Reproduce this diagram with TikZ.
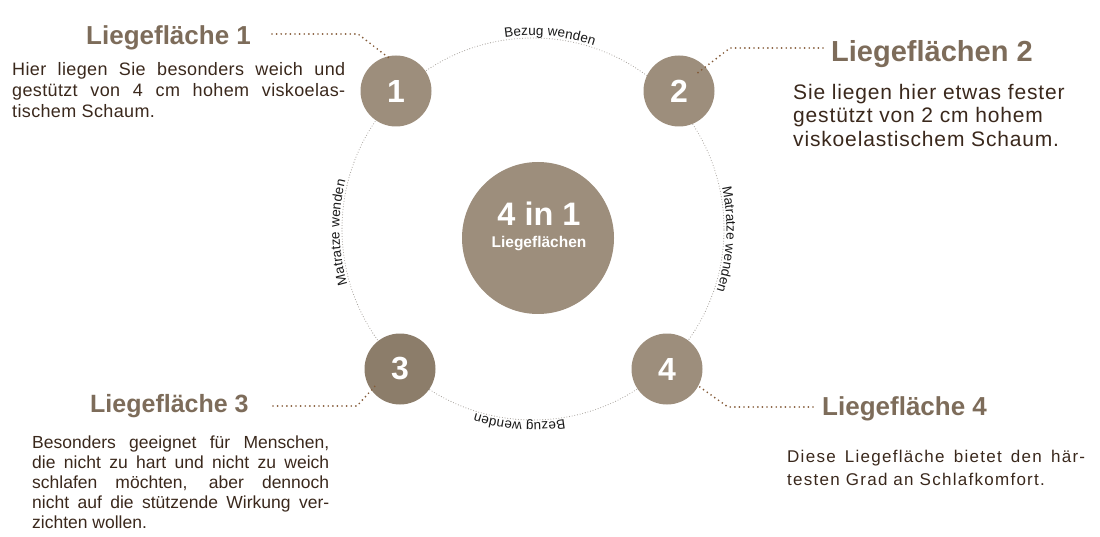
\documentclass[tikz,border=0pt]{standalone}
\usepackage{fontspec}
\setmainfont{Liberation Sans}
\newfontfamily\bodyA[LetterSpace=2]{Liberation Sans}
\newfontfamily\bodyB[LetterSpace=4]{Liberation Sans}
\newfontfamily\bodyC{Liberation Sans}
\newfontfamily\bodyD[LetterSpace=7.5]{Liberation Sans}
\usetikzlibrary{decorations.text,calc}
\definecolor{disc}{HTML}{9D8E7C}
\definecolor{discdark}{HTML}{8C7D6A}
\definecolor{titlecol}{HTML}{7D6C5A}
\definecolor{bodycol}{HTML}{3A281C}
\definecolor{leadcol}{HTML}{845B38}
\definecolor{ringcol}{HTML}{A8A39E}
\newcommand{\ringlabelfont}{\fontsize{13.5}{15}\selectfont}
\tikzset{
  ring/.style={draw=ringcol, line width=1.1pt, line cap=round, dash pattern=on 0pt off 2.7pt},
  leader/.style={draw=leadcol, line width=1.9pt, line cap=round, dash pattern=on 0pt off 4.6pt},
  smalldisc/.style={circle, fill=disc, minimum size=71pt, inner sep=0pt, text=white,
    font=\bfseries\fontsize{32}{32}\selectfont},
  bigdisc/.style={circle, fill=disc, minimum size=152pt, inner sep=0pt},
  titletext/.style={anchor=base west, inner sep=0pt, text=titlecol},
  bodytext/.style={anchor=base west, inner sep=0pt, text=bodycol},
  ringlabel/.style={decoration={text along path, text align=center, raise=2.5pt,
    text color=black!90, text={|\ringlabelfont|#1}}, decorate}
}
\begin{document}
\begin{tikzpicture}[x=1pt,y=1pt]
\useasboundingbox (0,0) rectangle (1100,536);
\coordinate (C) at (533,307);
% dotted ring
\draw[ring] (C) circle[radius=191];
% ring labels
\path[ringlabel={Bezug wenden}] ($(C)+(118:191)$) arc[start angle=118, end angle=52, radius=191];
\path[ringlabel={Matratze wenden}] ($(C)+(220:191)$) arc[start angle=220, end angle=142, radius=191];
\path[ringlabel={Matratze wenden}] ($(C)+(36:191)$) arc[start angle=36, end angle=-42, radius=191];
\path[ringlabel={Bezug wenden}] ($(C)+(299:191)$) arc[start angle=299, end angle=233, radius=191];
% discs
\node[bigdisc] (m) at (538,298) {};
\node[smalldisc] (c1) at (396,445) {1};
\node[smalldisc] (c2) at (679,445) {2};
\node[smalldisc, fill=discdark] (c3) at (400,167) {3};
\node[smalldisc] (c4) at (667,167) {4};
\node[anchor=base, inner sep=0pt, text=white, font=\bfseries\fontsize{32.5}{34}\selectfont] (m1) at (539,310) {4 in 1};
\node[anchor=base, inner sep=0pt, text=white, font=\bfseries\fontsize{15.5}{17}\selectfont] (m2) at (539,288) {Liegeflächen};
% titles
\node[titletext, font=\bfseries\fontsize{26}{30}\selectfont] (t1) at (86,491) {Liegefläche 1};
\node[titletext, font=\bfseries\fontsize{29}{32}\selectfont] (t2) at (831,474) {Liegeflächen 2};
\node[titletext, font=\bfseries\fontsize{25}{30}\selectfont] (t3) at (90,124) {Liegefläche 3};
\node[titletext, font=\bfseries\fontsize{26}{30}\selectfont] (t4) at (822,121) {Liegefläche 4};
% leaders
\coordinate (s1) at (272,502); \coordinate (b1) at (358,502); \coordinate (e1) at (389,478);
\coordinate (s2) at (823,488); \coordinate (b2) at (730,488); \coordinate (e2) at (695,461);
\coordinate (s3) at (273,130); \coordinate (b3) at (357,130); \coordinate (e3) at (376,151);
\coordinate (s4) at (813,129); \coordinate (b4) at (728,129); \coordinate (e4) at (697,151);
\draw[leader] (s1) -- (b1) -- (e1);
\draw[leader] (s2) -- (b2) -- (e2);
\draw[leader] (s3) -- (b3) -- (e3);
\draw[leader] (s4) -- (b4) -- (e4);
% body block 1
\node[bodytext, font=\bodyA\fontsize{18}{21}\selectfont] (p1a) at (12,460) {\makebox[333pt][s]{Hier liegen Sie besonders weich und}};
\node[bodytext, font=\bodyA\fontsize{18}{21}\selectfont] (p1b) at (12,439) {\makebox[333pt][s]{gestützt von 4 cm hohem viskoelas-}};
\node[bodytext, font=\bodyA\fontsize{18}{21}\selectfont] (p1c) at (12,418) {tischem Schaum.};
% body block 2
\node[bodytext, font=\bodyB\fontsize{21}{24}\selectfont] (p2a) at (793,436) {Sie liegen hier etwas fester};
\node[bodytext, font=\bodyB\fontsize{21}{24}\selectfont] (p2b) at (793,413) {gestützt von 2 cm hohem};
\node[bodytext, font=\bodyB\fontsize{21}{24}\selectfont] (p2c) at (793,389) {viskoelastischem Schaum.};
% body block 3
\node[bodytext, font=\bodyC\fontsize{17.5}{20}\selectfont] (p3a) at (32,88) {\makebox[297pt][s]{Besonders geeignet für Menschen,}};
\node[bodytext, font=\bodyC\fontsize{17.5}{20}\selectfont] (p3b) at (32,68) {\makebox[297pt][s]{die nicht zu hart und nicht zu weich}};
\node[bodytext, font=\bodyC\fontsize{17.5}{20}\selectfont] (p3c) at (32,48) {\makebox[297pt][s]{schlafen möchten, aber dennoch}};
\node[bodytext, font=\bodyC\fontsize{17.5}{20}\selectfont] (p3d) at (32,28) {\makebox[297pt][s]{nicht auf die stützende Wirkung ver-}};
\node[bodytext, font=\bodyC\fontsize{17.5}{20}\selectfont] (p3e) at (32,8) {zichten wollen.};
% body block 4
\node[bodytext, font=\bodyD\fontsize{17}{23}\selectfont] (p4a) at (787,74) {\makebox[298pt][s]{Diese Liegefläche bietet den här-}};
\node[bodytext, font=\bodyD\fontsize{17}{23}\selectfont] (p4b) at (787,51) {testen Grad an Schlafkomfort.};
\end{tikzpicture}
\end{document}
